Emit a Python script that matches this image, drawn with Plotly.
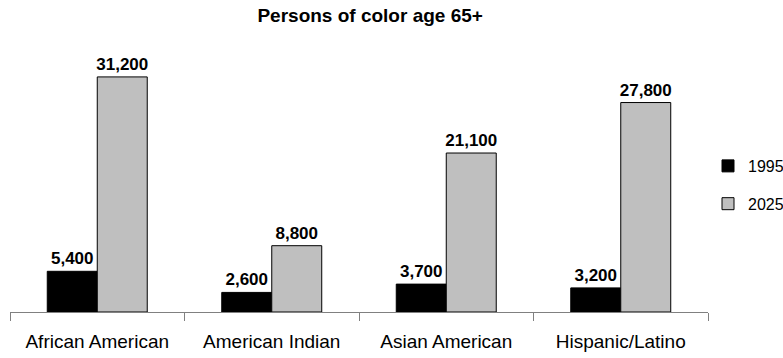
import plotly.graph_objects as go

categories = ["African American", "American Indian", "Asian American", "Hispanic/Latino"]
values_1995 = [5400, 2600, 3700, 3200]
values_2025 = [31200, 8800, 21100, 27800]
series_names = ["1995", "2025"]

FONT = "Liberation Sans, Arial, sans-serif"


def labels(vals):
    return [f"<b>{v:,}</b>" for v in vals]


fig = go.Figure()
fig.add_trace(go.Bar(
    x=categories, y=values_1995, name=series_names[0], legendgroup="a",
    marker=dict(color="#000000", line=dict(color="#000000", width=1)),
    text=labels(values_1995), textposition="outside",
    textfont=dict(family=FONT, size=17, color="#000000"), cliponaxis=False,
))
fig.add_trace(go.Bar(
    x=categories, y=values_2025, name=series_names[1], legendgroup="b",
    marker=dict(color="#BFBFBF", line=dict(color="#000000", width=1)),
    text=labels(values_2025), textposition="outside",
    textfont=dict(family=FONT, size=17, color="#000000"), cliponaxis=False,
))

fig.update_layout(
    width=783, height=358,
    margin=dict(l=10, r=75, t=40, b=46, autoexpand=False),
    paper_bgcolor="white", plot_bgcolor="white",
    title=dict(text="<b>Persons of color age 65+</b>", x=0.516, xref="paper",
               xanchor="center", y=0.958, yanchor="middle",
               font=dict(family=FONT, size=19, color="#000000")),
    barmode="group", bargap=0.427, bargroupgap=0,
    font=dict(family=FONT, size=19, color="#000000"),
    uniformtext=dict(minsize=17, mode="show"),
    legend=dict(x=1.0, xanchor="left", y=0.467, yanchor="middle",
                font=dict(family=FONT, size=16), traceorder="grouped",
                tracegroupgap=14, itemwidth=30, bgcolor="rgba(0,0,0,0)"),
    showlegend=True,
)
fig.update_xaxes(
    showline=True, linecolor="#808080", linewidth=1,
    ticks="outside", tickson="boundaries", ticklen=8, tickcolor="#808080",
    ticklabelstandoff=12, showgrid=False,
    tickfont=dict(family=FONT, size=19, color="#000000"),
)
fig.update_yaxes(visible=False, range=[0, 36100], showgrid=False)

fig.write_html("out.html")
